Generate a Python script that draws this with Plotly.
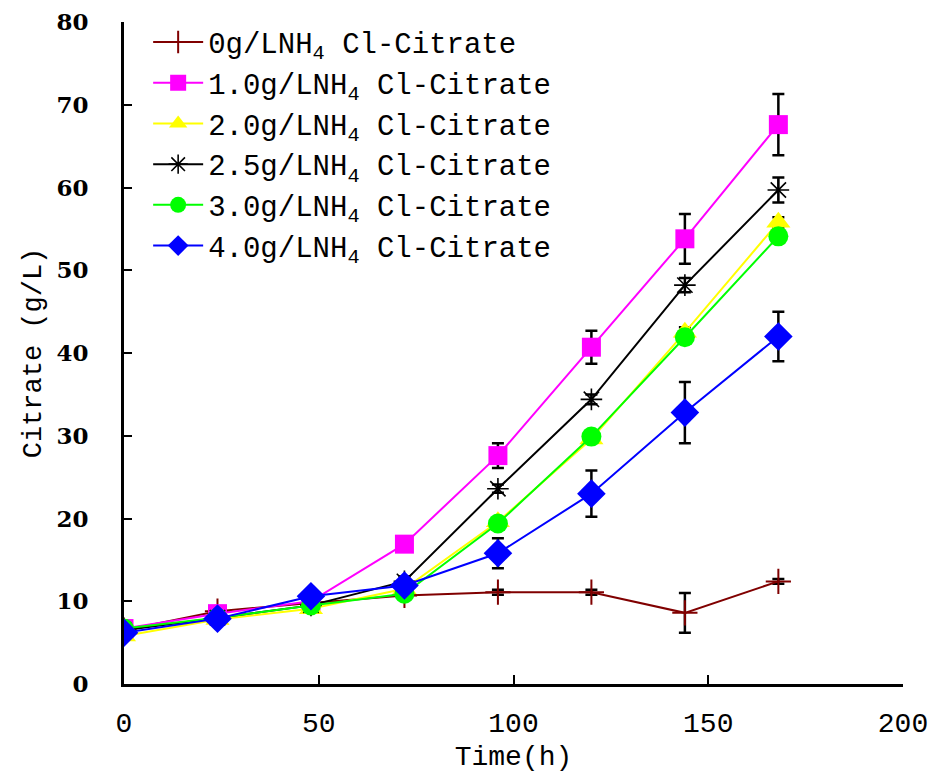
import plotly.graph_objects as go

time_h = [0, 24, 48, 72, 96, 120, 144, 168]

names = [
    "0g/LNH<sub>4</sub> Cl-Citrate",
    "1.0g/LNH<sub>4</sub> Cl-Citrate",
    "2.0g/LNH<sub>4</sub> Cl-Citrate",
    "2.5g/LNH<sub>4</sub> Cl-Citrate",
    "3.0g/LNH<sub>4</sub> Cl-Citrate",
    "4.0g/LNH<sub>4</sub> Cl-Citrate",
]

c0_0 = [6.5, 8.8, 9.8, 10.7, 11.1, 11.1, 8.6, 12.4]
c0_0_err = [0.2, 0.3, 0.3, 0.3, 0.3, 0.3, 2.4, 0.3]

c1_0 = [6.7, 8.5, 10.0, 16.9, 27.6, 40.7, 53.8, 67.6]
c1_0_err = [0.3, 0.3, 0.3, 0.4, 1.5, 2.0, 3.0, 3.7]

c2_0 = [5.8, 7.8, 9.1, 11.5, 19.6, 29.6, 42.5, 55.8]
c2_0_err = [0.2, 0.2, 0.3, 0.3, 0.4, 0.4, 0.6, 0.6]

c2_5 = [6.5, 8.0, 9.5, 12.4, 23.6, 34.4, 48.2, 59.7]
c2_5_err = [0.2, 0.3, 0.3, 0.6, 0.5, 0.6, 0.85, 1.5]

c3_0 = [6.7, 8.0, 9.5, 10.9, 19.4, 29.9, 41.9, 54.1]
c3_0_err = [0.2, 0.2, 0.3, 0.3, 0.4, 0.4, 0.7, 0.8]

c4_0 = [6.2, 7.9, 10.6, 11.9, 15.8, 23.0, 32.8, 42.0]
c4_0_err = [0.2, 0.3, 0.3, 0.4, 1.8, 2.8, 3.7, 3.0]

series = [
    (names[0], c0_0, c0_0_err, "#800000", dict(symbol="cross-thin-open", size=18, line=dict(color="#800000", width=2))),
    (names[1], c1_0, c1_0_err, "#FF00FF", dict(symbol="square", size=19, color="#FF00FF")),
    (names[2], c2_0, c2_0_err, "#FFFF00", dict(symbol="triangle-up", size=21, color="#FFFF00")),
    (names[3], c2_5, c2_5_err, "#000000", dict(symbol="asterisk-open", size=18, line=dict(color="#000000", width=1.6))),
    (names[4], c3_0, c3_0_err, "#00FF00", dict(symbol="circle", size=20, color="#00FF00")),
    (names[5], c4_0, c4_0_err, "#0000FF", dict(symbol="diamond", size=22, color="#0000FF")),
]

fig = go.Figure()
for name, vals, errs, col, mk in series:
    fig.add_trace(go.Scatter(
        x=time_h, y=vals, name=name, mode="lines+markers",
        line=dict(color=col, width=2),
        marker=mk,
        error_y=dict(type="data", array=errs, visible=True, color="black", thickness=2.5, width=6),
        hoverinfo="skip",
    ))

fig.update_layout(
    width=930, height=773,
    margin=dict(l=124, r=27, t=22, b=89, autoexpand=False),
    paper_bgcolor="white", plot_bgcolor="white",
    showlegend=True,
    legend=dict(
        x=0.031, y=1.008, xanchor="left", yanchor="top",
        font=dict(family="Liberation Mono, monospace", size=29, color="black"),
        bgcolor="rgba(0,0,0,0)", borderwidth=0,
        itemwidth=50, tracegroupgap=0,
    ),
    xaxis=dict(
        range=[0, 200], tickvals=[0, 50, 100, 150, 200],
        ticks="inside", ticklen=9, tickwidth=2, tickcolor="black",
        showline=True, linecolor="black", linewidth=3,
        showgrid=False, zeroline=False, automargin=False,
        tickfont=dict(family="Liberation Mono, monospace", size=28, color="black"),
        ticklabelstandoff=11, ticklabeloverflow="allow",
        title=dict(text="Time(h)", font=dict(family="Liberation Mono, monospace", size=28, color="black"), standoff=8),
    ),
    yaxis=dict(
        range=[0, 80], tickvals=[0, 10, 20, 30, 40, 50, 60, 70, 80],
        ticks="inside", ticklen=8, tickwidth=2, tickcolor="black",
        showline=True, linecolor="black", linewidth=3,
        showgrid=False, zeroline=False, automargin=False,
        tickfont=dict(family="DejaVu Serif, serif", size=23, color="black", weight="bold"),
        ticklabelstandoff=28,
        title=dict(text="Citrate (g/L)", font=dict(family="Liberation Mono, monospace", size=27, color="black"), standoff=7),
    ),
)

fig.write_html("out.html")
